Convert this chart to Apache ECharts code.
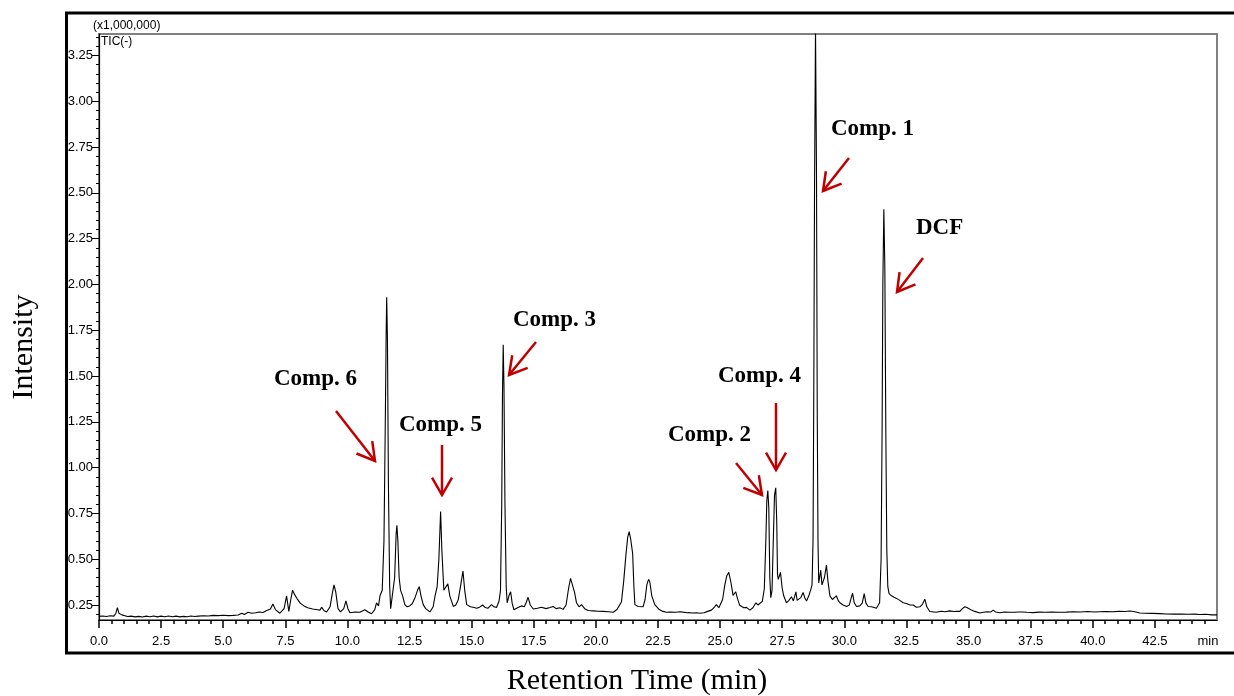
<!DOCTYPE html>
<html>
<head>
<meta charset="utf-8">
<script src="https://cdn.jsdelivr.net/npm/echarts@6/dist/echarts.min.js"></script>
<style>
  html, body { margin: 0; padding: 0; background: #fff; }
  #main { width: 1234px; height: 696px; }
</style>
</head>
<body>
<div id="main"></div>
<script>
// TIC chromatogram, [retention time (min), intensity (x1,000,000)]
const ticTrace = [
  [0.00,0.188],[0.15,0.190],[0.30,0.187],[0.45,0.191],[0.60,0.189],[0.68,0.205],[0.74,0.236],[0.80,0.205],
  [0.86,0.212],[0.92,0.196],[1.00,0.190],[1.15,0.187],[1.30,0.189],[1.45,0.185],[1.60,0.188],[1.75,0.184],
  [1.90,0.189],[2.05,0.186],[2.20,0.190],[2.35,0.185],[2.50,0.189],[2.65,0.186],[2.80,0.190],[2.95,0.186],
  [3.10,0.189],[3.25,0.185],[3.40,0.188],[3.55,0.186],[3.70,0.190],[3.85,0.187],[4.00,0.189],[4.20,0.191],
  [4.40,0.190],[4.60,0.193],[4.80,0.192],[5.00,0.194],[5.20,0.192],[5.40,0.193],[5.60,0.195],[5.75,0.205],
  [5.85,0.198],[6.00,0.210],[6.15,0.205],[6.30,0.208],[6.45,0.212],[6.60,0.209],[6.75,0.220],[6.90,0.228],
  [7.00,0.255],[7.10,0.225],[7.28,0.205],[7.45,0.230],[7.55,0.300],[7.64,0.215],[7.72,0.280],[7.79,0.330],
  [7.88,0.305],[7.97,0.285],[8.10,0.260],[8.25,0.245],[8.40,0.235],[8.60,0.228],[8.80,0.224],[8.90,0.222],
  [8.96,0.238],[9.05,0.220],[9.16,0.212],[9.30,0.240],[9.40,0.320],[9.46,0.360],[9.53,0.320],[9.62,0.230],
  [9.72,0.212],[9.85,0.230],[9.94,0.272],[10.02,0.230],[10.10,0.208],[10.30,0.212],[10.50,0.210],[10.70,0.224],
  [10.85,0.210],[10.97,0.202],[11.10,0.225],[11.17,0.262],[11.25,0.245],[11.31,0.300],[11.40,0.330],[11.47,0.600],
  [11.52,1.200],[11.56,1.750],[11.58,1.930],[11.61,1.700],[11.65,0.900],[11.70,0.350],[11.74,0.230],[11.82,0.240],
  [11.90,0.400],[11.96,0.640],[11.99,0.685],[12.03,0.600],[12.08,0.400],[12.14,0.330],[12.22,0.300],[12.31,0.252],
  [12.40,0.240],[12.50,0.245],[12.60,0.255],[12.72,0.290],[12.82,0.330],[12.89,0.350],[12.96,0.300],[13.05,0.252],
  [13.15,0.230],[13.32,0.212],[13.45,0.240],[13.52,0.295],[13.61,0.350],[13.68,0.500],[13.75,0.760],[13.80,0.550],
  [13.88,0.330],[13.96,0.330],[14.04,0.365],[14.12,0.300],[14.26,0.242],[14.36,0.250],[14.46,0.278],[14.56,0.360],
  [14.65,0.435],[14.72,0.330],[14.80,0.252],[14.95,0.240],[15.10,0.236],[15.20,0.232],[15.32,0.238],[15.44,0.250],
  [15.55,0.236],[15.65,0.232],[15.80,0.252],[15.90,0.240],[16.00,0.236],[16.10,0.270],[16.16,0.330],[16.21,0.800],
  [16.24,1.400],[16.27,1.670],[16.30,1.450],[16.34,0.800],[16.39,0.350],[16.43,0.262],[16.50,0.300],[16.57,0.322],
  [16.63,0.260],[16.70,0.224],[16.85,0.235],[17.00,0.245],[17.12,0.240],[17.20,0.265],[17.27,0.292],[17.36,0.250],
  [17.48,0.228],[17.65,0.232],[17.80,0.238],[17.88,0.235],[18.00,0.230],[18.15,0.236],[18.28,0.242],[18.40,0.230],
  [18.55,0.235],[18.68,0.226],[18.80,0.250],[18.90,0.340],[18.98,0.395],[19.06,0.395],[19.14,0.320],[19.22,0.262],
  [19.32,0.240],[19.42,0.252],[19.55,0.230],[19.69,0.220],[19.90,0.218],[20.10,0.216],[20.30,0.215],[20.50,0.213],
  [20.70,0.210],[20.85,0.225],[21.03,0.268],[21.12,0.380],[21.20,0.510],[21.28,0.620],[21.34,0.650],[21.40,0.610],
  [21.48,0.530],[21.53,0.350],[21.57,0.252],[21.70,0.242],[21.90,0.240],[21.98,0.280],[22.05,0.360],[22.12,0.390],
  [22.17,0.377],[22.25,0.300],[22.37,0.252],[22.55,0.225],[22.70,0.215],[22.84,0.210],[23.00,0.212],[23.20,0.210],
  [23.40,0.213],[23.51,0.211],[23.70,0.208],[23.90,0.206],[24.05,0.208],[24.18,0.205],[24.35,0.208],[24.50,0.215],
  [24.65,0.222],[24.75,0.235],[24.85,0.252],[24.95,0.235],[25.01,0.225],[25.10,0.280],[25.19,0.360],[25.27,0.410],
  [25.35,0.428],[25.44,0.370],[25.52,0.302],[25.58,0.305],[25.63,0.322],[25.70,0.285],[25.79,0.248],[25.95,0.235],
  [26.06,0.237],[26.20,0.222],[26.32,0.235],[26.44,0.262],[26.52,0.250],[26.60,0.246],[26.70,0.270],[26.78,0.340],
  [26.84,0.600],[26.88,0.820],[26.92,0.875],[26.96,0.780],[27.00,0.400],[27.04,0.290],[27.09,0.330],[27.14,0.600],
  [27.19,0.850],[27.24,0.890],[27.28,0.700],[27.31,0.420],[27.34,0.390],[27.43,0.428],[27.50,0.340],[27.56,0.300],
  [27.67,0.262],[27.77,0.275],[27.87,0.295],[27.95,0.272],[28.00,0.270],[28.05,0.322],[28.10,0.275],[28.14,0.270],
  [28.25,0.290],[28.34,0.318],[28.42,0.285],[28.48,0.272],[28.57,0.300],[28.64,0.330],[28.70,0.360],[28.74,0.600],
  [28.77,1.400],[28.80,2.500],[28.84,3.400],[28.88,2.600],[28.91,1.300],[28.94,0.600],[28.97,0.370],[29.00,0.380],
  [29.05,0.440],[29.10,0.360],[29.15,0.350],[29.20,0.400],[29.28,0.468],[29.34,0.380],[29.42,0.300],[29.52,0.280],
  [29.60,0.290],[29.68,0.300],[29.75,0.275],[29.82,0.262],[29.95,0.250],[30.09,0.242],[30.20,0.250],[30.28,0.290],
  [30.33,0.315],[30.40,0.262],[30.49,0.242],[30.62,0.245],[30.72,0.260],[30.80,0.312],[30.87,0.260],[30.96,0.242],
  [31.10,0.240],[31.29,0.232],[31.36,0.240],[31.42,0.262],[31.48,0.500],[31.52,1.200],[31.55,2.000],[31.59,2.410],
  [31.63,2.100],[31.67,1.200],[31.71,0.550],[31.75,0.350],[31.80,0.312],[31.90,0.300],[32.00,0.292],[32.10,0.286],
  [32.23,0.275],[32.37,0.262],[32.50,0.258],[32.64,0.250],[32.77,0.250],[32.90,0.238],[32.97,0.232],[33.04,0.240],
  [33.15,0.255],[33.24,0.282],[33.32,0.240],[33.44,0.214],[33.60,0.212],[33.70,0.210],[33.90,0.216],[34.05,0.213],
  [34.24,0.218],[34.40,0.214],[34.55,0.216],[34.65,0.215],[34.75,0.230],[34.85,0.240],[34.95,0.235],[35.12,0.222],
  [35.25,0.215],[35.45,0.206],[35.60,0.210],[35.75,0.213],[35.90,0.212],[35.99,0.222],[36.08,0.212],[36.26,0.208],
  [36.45,0.212],[36.65,0.210],[36.85,0.210],[37.00,0.212],[37.06,0.218],[37.15,0.212],[37.35,0.210],[37.60,0.208],
  [37.85,0.211],[38.10,0.210],[38.35,0.212],[38.60,0.210],[38.94,0.211],[39.20,0.213],[39.50,0.212],[39.80,0.214],
  [40.05,0.212],[40.28,0.213],[40.55,0.214],[40.80,0.213],[41.05,0.215],[41.30,0.214],[41.49,0.217],[41.65,0.214],
  [41.89,0.206],[42.10,0.205],[42.40,0.204],[42.70,0.203],[42.96,0.201],[43.25,0.200],[43.55,0.201],[43.85,0.199],
  [44.10,0.200],[44.30,0.198],[44.55,0.199],[44.80,0.196],[45.00,0.196]
];

// tick labels
const xMajor = [0, 2.5, 5, 7.5, 10, 12.5, 15, 17.5, 20, 22.5, 25, 27.5, 30, 32.5, 35, 37.5, 40, 42.5];
const xUnitAt = 45;
const yMajor = [0.25, 0.5, 0.75, 1, 1.25, 1.5, 1.75, 2, 2.25, 2.5, 2.75, 3, 3.25];

// minor ticks every 0.5 min / 0.05
const xMinor = [];
for (let i = 1; i < 90; i++) xMinor.push(i / 2);
const yMinor = [];
for (let i = 4; i <= 67; i++) yMinor.push(Math.round(i * 5) / 100);

// peak labels
const peakNotes = [
  { text: 'Comp. 1', x: 831, y: 129, from: [849, 158], to: [823, 191] },
  { text: 'DCF',     x: 916, y: 228, from: [923, 258], to: [897, 292] },
  { text: 'Comp. 3', x: 513, y: 320, from: [536, 342], to: [509, 375] },
  { text: 'Comp. 6', x: 274, y: 379, from: [336, 411], to: [375, 461] },
  { text: 'Comp. 5', x: 399, y: 425, from: [442, 445], to: [442, 495] },
  { text: 'Comp. 4', x: 718, y: 376, from: [776, 403], to: [776, 470] },
  { text: 'Comp. 2', x: 668, y: 435, from: [736, 463], to: [762, 495] }
];

const sans = '"Liberation Sans", Arial, sans-serif';
const serif = '"Liberation Serif", "DejaVu Serif", serif';
const arrowRed = '#c00000';

// arrow = shaft + open V head
function arrowParts(n) {
  const dx = n.to[0] - n.from[0], dy = n.to[1] - n.from[1];
  const ang = Math.atan2(dy, dx) + Math.PI;
  const head = 20, spread = Math.PI / 6;
  const a1 = [n.to[0] + head * Math.cos(ang - spread), n.to[1] + head * Math.sin(ang - spread)];
  const a2 = [n.to[0] + head * Math.cos(ang + spread), n.to[1] + head * Math.sin(ang + spread)];
  const st = { stroke: arrowRed, lineWidth: 2.5, fill: null };
  return [
    { type: 'polyline', shape: { points: [n.from, n.to] }, style: st, z: 10 },
    { type: 'polyline', shape: { points: [a1, n.to, a2] }, style: st, z: 10 }
  ];
}

let graphics = [
  // outer frame
  { type: 'rect', shape: { x: 66.5, y: 13, width: 1200, height: 640 },
    style: { stroke: '#000', lineWidth: 3, fill: null }, z: 10 },
  { type: 'text', style: { text: '(x1,000,000)', x: 93, y: 26, font: '12px ' + sans,
    fill: '#000', verticalAlign: 'middle' } },
  { type: 'text', style: { text: 'TIC(-)', x: 101, y: 42, font: '12px ' + sans,
    fill: '#000', verticalAlign: 'middle' } },
  { type: 'text', style: { text: 'Retention Time (min)', x: 637, y: 681, font: '30px ' + serif,
    fill: '#000', align: 'center', verticalAlign: 'middle' } },
  { type: 'text', x: 24, y: 347, rotation: Math.PI / 2,
    style: { text: 'Intensity', x: 0, y: 0, font: '30px ' + serif,
      fill: '#000', align: 'center', verticalAlign: 'middle' } }
];
peakNotes.forEach(n => {
  graphics.push({ type: 'text', z: 10, style: { text: n.text, x: n.x, y: n.y,
    font: 'bold 23px ' + serif, fill: '#000', verticalAlign: 'middle' } });
  graphics = graphics.concat(arrowParts(n));
});

const chart = echarts.init(document.getElementById('main'));
const axisFont = { fontFamily: sans, fontSize: 13, color: '#000' };

chart.setOption({
  animation: false,
  backgroundColor: '#fff',
  grid: {
    left: 99, top: 34, right: 17, bottom: 76,
    show: true, borderColor: '#808080', borderWidth: 2,
    containLabel: false, outerBoundsMode: 'none'
  },
  xAxis: [
    {
      type: 'value', position: 'bottom', min: 0, max: 45,
      splitLine: { show: false },
      axisLine: { show: true, onZero: false, lineStyle: { color: '#000', width: 1.2 } },
      axisTick: { show: true, customValues: xMajor, length: 8, lineStyle: { color: '#000', width: 1.5 } },
      axisLabel: Object.assign({
        customValues: xMajor.concat([xUnitAt]),
        margin: 15,
        formatter: v => (v === xUnitAt ? '{u|min}' : v.toFixed(1)),
        rich: { u: Object.assign({ padding: [0, 18, 0, 0] }, axisFont) }
      }, axisFont)
    },
    {
      type: 'value', position: 'bottom', min: 0, max: 45,
      splitLine: { show: false },
      axisLine: { show: false },
      axisTick: { show: true, customValues: xMinor, length: 4, lineStyle: { color: '#000', width: 1.5 } },
      axisLabel: { show: false }
    }
  ],
  yAxis: [
    {
      type: 'value', position: 'left', min: 0.168, max: 3.367,
      splitLine: { show: false },
      axisLine: { show: true, onZero: false, lineStyle: { color: '#000', width: 1.2 } },
      axisTick: { show: true, customValues: yMajor, length: 7, lineStyle: { color: '#000' } },
      axisLabel: Object.assign({
        customValues: yMajor,
        margin: 6,
        formatter: v => v.toFixed(2)
      }, axisFont)
    },
    {
      type: 'value', position: 'left', min: 0.168, max: 3.367,
      splitLine: { show: false },
      axisLine: { show: false },
      axisTick: { show: true, customValues: yMinor, length: 3, lineStyle: { color: '#000' } },
      axisLabel: { show: false }
    }
  ],
  series: [{
    type: 'line',
    name: 'TIC(-)',
    xAxisIndex: 0,
    yAxisIndex: 0,
    data: ticTrace,
    showSymbol: false,
    clip: true,
    lineStyle: { color: '#000', width: 1.1 }
  }],
  graphic: graphics
});
</script>
</body>
</html>
